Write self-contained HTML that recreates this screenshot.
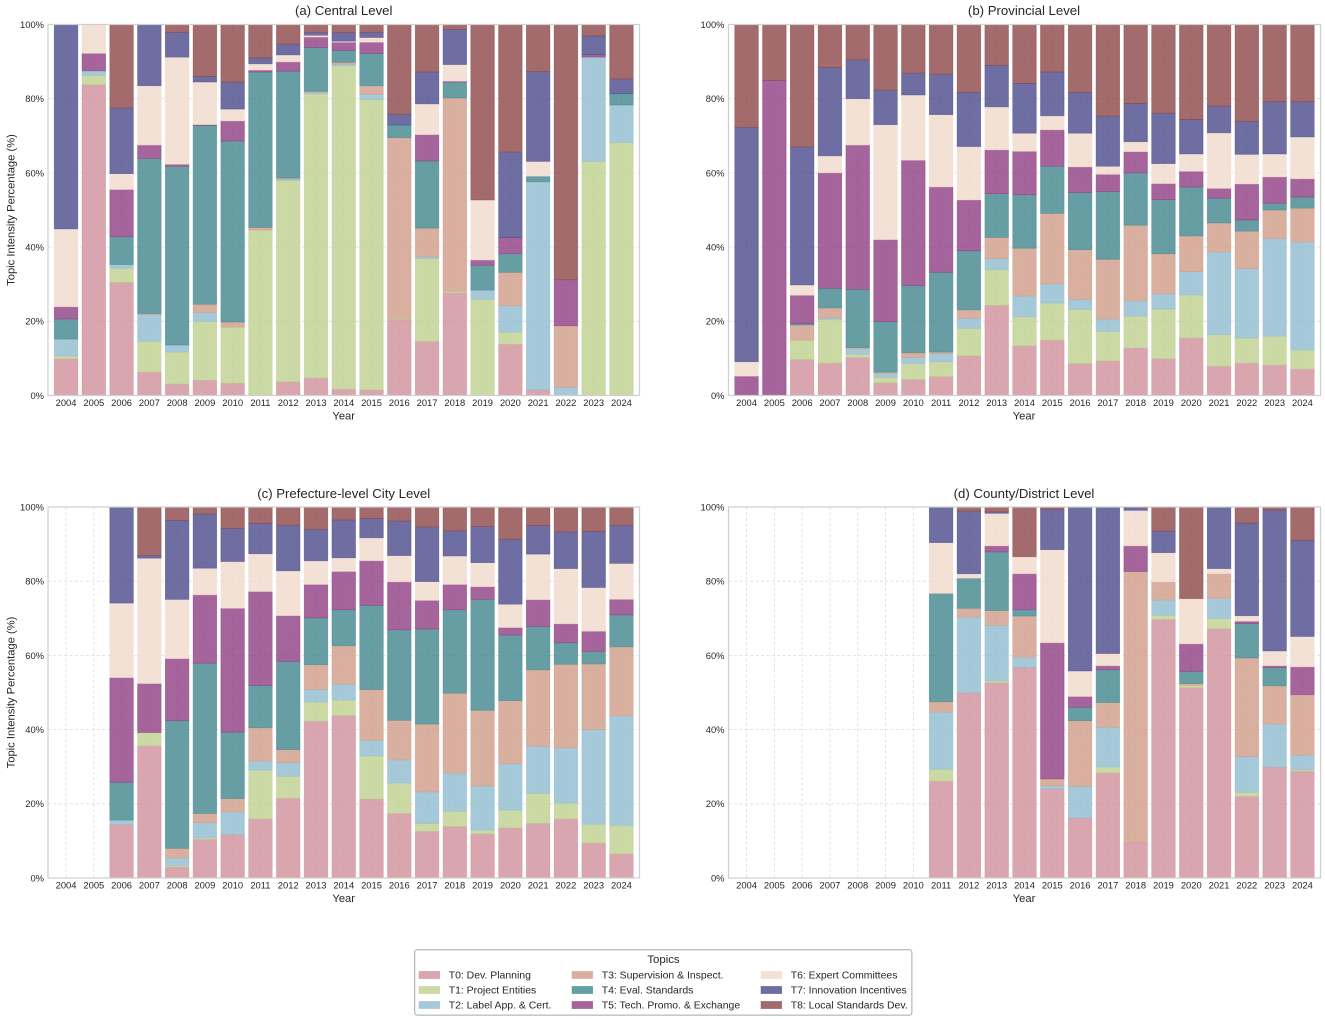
<!DOCTYPE html>
<html lang="en">
<head>
<meta charset="utf-8">
<title>Topic Intensity by Administrative Level</title>
<style>
  html, body { margin: 0; padding: 0; background: #fff; }
  #figure { display: block; width: 1325px; height: 1020px; font-family: "Liberation Sans", Arial, sans-serif; }
  text { font-family: "Liberation Sans", Arial, sans-serif; fill: #262626; }
  .panel-title { font-size: 13.2px; text-anchor: middle; }
  .axis-title { font-size: 11.2px; text-anchor: middle; }
  .tick-x { font-size: 9.4px; text-anchor: middle; }
  .tick-y { font-size: 9.4px; text-anchor: end; }
  .legend-title { font-size: 11.4px; text-anchor: middle; }
  .legend-text { font-size: 10.45px; }
  .grid { stroke: #dcdcdc; stroke-width: 0.8; stroke-dasharray: 3 2.4; fill: none; }
  .spine { stroke: #cfcfcf; stroke-width: 1.2; fill: none; }
  .seg { stroke-width: 0.7; fill-opacity: 0.8; stroke-opacity: 0.55; }
  .t0 { fill: rgb(207,143,155); stroke: rgb(207,143,155); }
  .t1 { fill: rgb(190,208,143); stroke: rgb(190,208,143); }
  .t2 { fill: rgb(144,188,207); stroke: rgb(144,188,207); }
  .t3 { fill: rgb(207,156,136); stroke: rgb(207,156,136); }
  .t4 { fill: rgb(65,134,141);  stroke: rgb(65,134,141); }
  .t5 { fill: rgb(143,61,130);  stroke: rgb(143,61,130); }
  .t6 { fill: rgb(241,217,204); stroke: rgb(241,217,204); }
  .t7 { fill: rgb(74,74,140);   stroke: rgb(74,74,140); }
  .t8 { fill: rgb(140,70,70);   stroke: rgb(140,70,70); }
</style>
</head>
<body>
<svg id="figure" xmlns="http://www.w3.org/2000/svg" width="1325" height="1020" viewBox="0 0 1325 1020">
  <rect x="0" y="0" width="1325" height="1020" fill="#fff"/>

  <g id="panel-a"></g>
  <g id="panel-b"></g>
  <g id="panel-c"></g>
  <g id="panel-d"></g>

  <text class="panel-title" x="343.7" y="15">(a) Central Level</text>
  <text class="panel-title" x="1024" y="15">(b) Provincial Level</text>
  <text class="panel-title" x="343.7" y="498">(c) Prefecture-level City Level</text>
  <text class="panel-title" x="1024" y="498">(d) County/District Level</text>

  <text class="axis-title" x="343.7" y="419.5">Year</text>
  <text class="axis-title" x="1024" y="419.5">Year</text>
  <text class="axis-title" x="343.7" y="902">Year</text>
  <text class="axis-title" x="1024" y="902">Year</text>

  <text class="axis-title" transform="translate(14.5,210) rotate(-90)">Topic Intensity Percentage (%)</text>
  <text class="axis-title" transform="translate(14.5,692.5) rotate(-90)">Topic Intensity Percentage (%)</text>

  <g>
    <rect x="414.7" y="949.7" width="497.2" height="65.4" rx="2.5" ry="2.5" fill="#fff" stroke="#a8a8a8" stroke-width="1"/>
    <text class="legend-title" x="663.5" y="963">Topics</text>

    <rect class="seg t0" x="419" y="971.4" width="20.7" height="7.2"/>
    <text class="legend-text" x="448.7" y="978.6">T0: Dev. Planning</text>
    <rect class="seg t1" x="419" y="986.4" width="20.7" height="7.2"/>
    <text class="legend-text" x="448.7" y="993.6">T1: Project Entities</text>
    <rect class="seg t2" x="419" y="1001.4" width="20.7" height="7.2"/>
    <text class="legend-text" x="448.7" y="1008.6">T2: Label App. &amp; Cert.</text>

    <rect class="seg t3" x="572" y="971.4" width="20.7" height="7.2"/>
    <text class="legend-text" x="601.7" y="978.6">T3: Supervision &amp; Inspect.</text>
    <rect class="seg t4" x="572" y="986.4" width="20.7" height="7.2"/>
    <text class="legend-text" x="601.7" y="993.6">T4: Eval. Standards</text>
    <rect class="seg t5" x="572" y="1001.4" width="20.7" height="7.2"/>
    <text class="legend-text" x="601.7" y="1008.6">T5: Tech. Promo. &amp; Exchange</text>

    <rect class="seg t6" x="761" y="971.4" width="20.7" height="7.2"/>
    <text class="legend-text" x="790.7" y="978.6">T6: Expert Committees</text>
    <rect class="seg t7" x="761" y="986.4" width="20.7" height="7.2"/>
    <text class="legend-text" x="790.7" y="993.6">T7: Innovation Incentives</text>
    <rect class="seg t8" x="761" y="1001.4" width="20.7" height="7.2"/>
    <text class="legend-text" x="790.7" y="1008.6">T8: Local Standards Dev.</text>
  </g>
</svg>

<script>
// Categories and tick labels
const years = [2004,2005,2006,2007,2008,2009,2010,2011,2012,2013,2014,2015,2016,2017,2018,2019,2020,2021,2022,2023,2024];
const yTickValues = [0,20,40,60,80,100];
const yTickLabels = ["0%","20%","40%","60%","80%","100%"];
const topics = ["T0","T1","T2","T3","T4","T5","T6","T7","T8"];

// (a) Central level: percentage per topic, per year
const centralT0 = [9.9,83.8,30.5,6.3,3.1,4.1,3.3,0,3.7,4.7,1.7,1.5,20.5,14.6,27.7,0,13.8,1.5,0,0,0];
const centralT1 = [0.7,2.5,3.8,8.3,8.6,15.9,15.1,44.6,54.3,76.6,87.2,78.3,0.3,22.3,0.4,25.9,3.3,0,0,63.1,68.2];
const centralT2 = [4.6,1.2,1,7.2,1.9,2.3,0,0,0.3,0.4,0.4,1.4,0,0.5,0,2.5,7.1,56.1,2.2,28.1,10.1];
const centralT3 = [0,0,0,0.3,0,2.3,1.4,0.7,0.3,0.3,0.5,2.3,48.7,7.7,52.1,0,9,0,16.6,0,0];
const centralT4 = [5.4,0,7.5,41.8,48.2,48.2,48.8,41.9,28.8,11.8,3.2,8.7,3.4,18.1,4.3,6.7,5,1.5,0,0,3.1];
const centralT5 = [3.3,4.7,12.7,3.6,0.5,0.2,5.4,0.5,2.5,2.8,2.2,3,0,7.1,0.2,1.4,4.4,0,12.4,0.7,0];
const centralT6 = [21,7.8,4.3,16,28.9,11.5,3.2,1.7,1.9,0.5,0.3,1.3,0,8.3,4.5,16.2,0,4,0,0,0];
const centralT7 = [55.1,0,17.7,16.5,6.7,1.5,7.3,1.6,2.9,0.8,2.3,1.4,2.9,8.6,9.5,0,23,24.2,0,5,3.9];
const centralT8 = [0,0,22.5,0,2.1,14,15.5,9,5.3,2.1,2.2,2.1,24.2,12.8,1.3,47.3,34.4,12.7,68.8,3.1,14.7];

// (b) Provincial level
const provincialT0 = [0,0,9.7,8.7,10.2,3.4,4.3,5.1,10.7,24.3,13.4,14.9,8.6,9.3,12.8,9.9,15.5,7.9,8.7,8.2,7.1];
const provincialT1 = [0,0,5.2,11.8,0.9,1.5,4.3,4,7.4,9.6,7.8,10,14.6,8,8.6,13.4,11.6,8.5,6.8,7.8,5.2];
const provincialT2 = [0,0,0,0.4,1.5,1.1,1.6,2.2,2.7,3,5.6,5.2,2.7,3.3,4.1,4.1,6.3,22.3,18.7,26.3,29.1];
const provincialT3 = [0,0,4.1,2.7,0.3,0.3,1.3,0.4,2.3,5.7,12.9,19,13.4,16.1,20.4,10.8,9.6,7.8,10.1,7.7,9.1];
const provincialT4 = [0,0,0.4,5.3,15.7,13.6,18.1,21.5,15.9,11.8,14.4,12.7,15.4,18.3,14.1,14.6,13.2,6.7,3,1.8,3];
const provincialT5 = [5.2,84.9,7.6,31.1,38.9,22.1,33.8,23,13.7,11.8,11.7,9.8,6.9,4.6,5.7,4.3,4.2,2.6,9.7,7.1,4.9];
const provincialT6 = [3.9,0,2.8,4.6,12.5,31,17.6,19.5,14.4,11.6,4.9,3.8,9.1,2.2,2.7,5.4,4.7,15,8,6.2,11.3];
const provincialT7 = [63.2,0,37.2,23.8,10.5,9.3,5.9,10.9,14.6,11.2,13.4,11.8,11,13.5,10.3,13.6,9.3,7.2,8.9,14.1,9.5];
const provincialT8 = [27.7,15.1,33,11.6,9.5,17.7,13.1,13.4,18.3,11,15.9,12.8,18.3,24.7,21.3,23.9,25.6,22,26.1,20.8,20.8];

// (c) Prefecture-level city level
const prefectureT0 = [0,0,14.4,35.6,3,10.4,11.7,15.9,21.5,42.3,43.8,21.3,17.4,12.6,13.9,11.9,13.5,14.7,15.9,9.4,6.5];
const prefectureT1 = [0,0,0,3.6,0.4,0.4,0,13.2,5.9,5.1,4.2,11.6,8.2,2.1,4.1,1,4.8,8.1,4.3,5.1,7.7];
const prefectureT2 = [0,0,1.2,0,2,4.1,6.1,2.4,3.7,3.4,4.2,4.2,6.2,8.5,10.2,11.9,12.5,12.7,14.9,25.5,29.5];
const prefectureT3 = [0,0,0,0,2.6,2.5,3.6,9,3.5,6.7,10.4,13.7,10.7,18.3,21.6,20.4,17,20.6,22.5,17.7,18.6];
const prefectureT4 = [0,0,10.2,0,34.4,40.5,17.9,11.4,23.8,12.6,9.7,22.7,24.4,25.6,22.5,29.9,17.7,11.7,5.8,3.4,8.6];
const prefectureT5 = [0,0,28.2,13.2,16.7,18.4,33.4,25.3,12.3,9,10.3,12,12.9,7.7,6.8,3.4,2,7.2,5.1,5.4,4.2];
const prefectureT6 = [0,0,20.1,33.8,16,7.2,12.6,10.2,12.1,6.4,3.7,6.2,7.1,5.1,7.7,6.5,6.3,12.3,14.9,11.8,9.7];
const prefectureT7 = [0,0,25.9,0.7,21.3,14.6,8.9,8.2,12.3,8.5,10.2,5.2,9.3,14.7,6.8,9.7,17.5,7.7,9.9,15.1,10.3];
const prefectureT8 = [0,0,0,13.1,3.6,1.9,5.8,4.4,4.9,6,3.5,3.1,3.8,5.4,6.4,5.3,8.7,5,6.7,6.6,4.9];

// (d) County/district level
const countyT0 = [0,0,0,0,0,0,0,26.1,49.9,52.6,56.8,24,16.2,28.3,9.4,69.7,51.3,67.2,22,29.9,28.8];
const countyT1 = [0,0,0,0,0,0,0,3.2,0,0.5,0,0,0,1.6,0,1.1,0.6,2.8,1.1,0,0.4];
const countyT2 = [0,0,0,0,0,0,0,15.4,20.4,15,2.7,0.8,8.5,10.7,0,4.1,0,5.4,9.6,11.6,3.9];
const countyT3 = [0,0,0,0,0,0,0,2.8,2.4,4,11.1,1.9,17.7,6.7,73.2,4.9,0.5,6.6,26.6,10.3,16.3];
const countyT4 = [0,0,0,0,0,0,0,29.2,8.1,15.8,1.7,0,3.6,8.8,0,0,3.3,0,9.3,4.9,0];
const countyT5 = [0,0,0,0,0,0,0,0,0,1.6,9.7,36.7,2.9,1.1,6.9,0,7.4,0,0.6,0.5,7.5];
const countyT6 = [0,0,0,0,0,0,0,13.7,1.2,8.8,4.6,25.1,6.9,3.3,9.6,7.9,12.2,1.4,1.5,4,8.2];
const countyT7 = [0,0,0,0,0,0,0,9.6,16.9,0.4,0,10.9,44.2,39.5,0.7,5.8,0,16.6,25,38,25.9];
const countyT8 = [0,0,0,0,0,0,0,0,1.1,1.3,13.4,0.6,0,0,0.2,6.5,24.7,0,4.3,0.8,9];

const centralSeries = [centralT0,centralT1,centralT2,centralT3,centralT4,centralT5,centralT6,centralT7,centralT8];
const provincialSeries = [provincialT0,provincialT1,provincialT2,provincialT3,provincialT4,provincialT5,provincialT6,provincialT7,provincialT8];
const prefectureSeries = [prefectureT0,prefectureT1,prefectureT2,prefectureT3,prefectureT4,prefectureT5,prefectureT6,prefectureT7,prefectureT8];
const countySeries = [countyT0,countyT1,countyT2,countyT3,countyT4,countyT5,countyT6,countyT7,countyT8];

const SVG_NS = "http://www.w3.org/2000/svg";
const X_MIN = -0.65, X_MAX = 20.65, BAR_WIDTH = 0.85;

function makeEl(tag, attrs, parent) {
  const el = document.createElementNS(SVG_NS, tag);
  for (const key in attrs) el.setAttribute(key, attrs[key]);
  parent.appendChild(el);
  return el;
}

function drawPanel(groupId, series, prefix, box) {
  const g = document.getElementById(groupId);
  const xScale = (i) => box.left + (i - X_MIN) / (X_MAX - X_MIN) * (box.right - box.left);
  const yScale = (v) => box.bottom - v / 100 * (box.bottom - box.top);

  // Grid: horizontal at each tick, vertical at each year
  yTickValues.forEach((v) => {
    const line = makeEl("line", { class: "grid", x1: box.left, x2: box.right, y1: yScale(v), y2: yScale(v) }, g);
    
    
  });
  years.forEach((yr, i) => {
    const line = makeEl("line", { class: "grid", x1: xScale(i), x2: xScale(i), y1: box.top, y2: box.bottom }, g);
    
    
  });

  // Stacked bars
  const halfWidth = (xScale(1) - xScale(0)) * BAR_WIDTH / 2;
  years.forEach((yr, i) => {
    let base = 0;
    series.forEach((values, t) => {
      const v = values[i];
      if (v > 0) {
        const top = base + v;
        const rect = makeEl("rect", {
          class: "seg t" + t,
          x: xScale(i) - halfWidth,
          y: yScale(top),
          width: halfWidth * 2,
          height: yScale(base) - yScale(top)
        }, g);
        
        
        base = top;
      }
    });
  });

  // Frame
  const frame = makeEl("rect", { class: "spine", x: box.left, y: box.top, width: box.right - box.left, height: box.bottom - box.top }, g);
  
  

  // Tick labels
  yTickValues.forEach((v, k) => {
    const label = makeEl("text", { class: "tick-y", x: box.left - 4, y: yScale(v) + 3.4 }, g);
    label.textContent = yTickLabels[k];
    
    
  });
  years.forEach((yr, i) => {
    const label = makeEl("text", { class: "tick-x", x: xScale(i), y: box.bottom + 10.6 }, g);
    label.textContent = String(yr);
    
    
  });
}

drawPanel("panel-a", centralSeries, "central", { left: 48, right: 639.5, top: 24.5, bottom: 395.5 });
drawPanel("panel-b", provincialSeries, "provincial", { left: 728.5, right: 1320.5, top: 24.5, bottom: 395.5 });
drawPanel("panel-c", prefectureSeries, "prefecture", { left: 48, right: 639.5, top: 507, bottom: 878 });
drawPanel("panel-d", countySeries, "county", { left: 728.5, right: 1320.5, top: 507, bottom: 878 });
</script>
</body>
</html>
